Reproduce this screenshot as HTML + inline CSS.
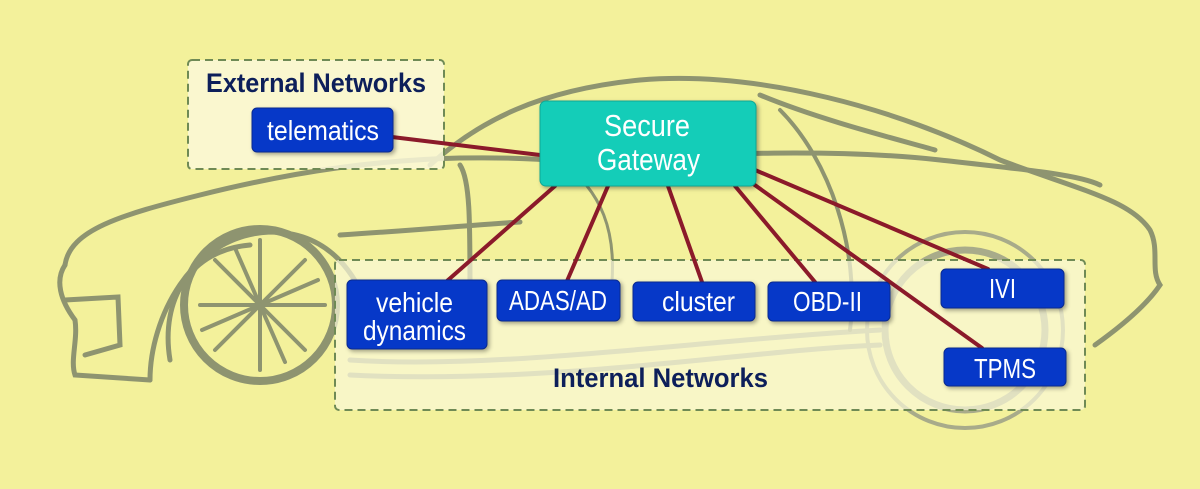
<!DOCTYPE html>
<html><head><meta charset="utf-8"><style>
html,body{margin:0;padding:0;background:#f3f19b;}
svg{display:block}
text{font-family:"Liberation Sans Narrow","Liberation Sans",sans-serif;}
</style></head><body>
<svg width="1200" height="489" viewBox="0 0 1200 489" xmlns="http://www.w3.org/2000/svg">
<rect width="1200" height="489" fill="#f3f19b"/>
<g fill="none" stroke="#8e9470" stroke-width="5" stroke-linecap="round">
 <path d="M65,265 C70,230 120,215 200,195 C300,170 380,160 460,158 C520,157 560,160 600,165"/>
 <path d="M430,165 C480,120 540,90 640,80 C760,70 900,110 1000,160 C1080,190 1130,200 1150,230 C1160,250 1150,270 1160,285 C1150,300 1130,320 1095,345"/>
 <path d="M600,165 C700,150 850,150 940,160 C1030,170 1080,175 1100,185"/>
 <path d="M760,95 C820,120 900,140 935,150"/>
 <path d="M65,265 C55,280 60,300 75,320 C78,340 70,360 75,375 L150,380"/>
 <path d="M65,300 L118,297 L120,345 L85,355"/>
 <path d="M150,380 C150,320 190,235 270,232 C340,232 360,290 370,310"/>
 <circle cx="260" cy="305" r="76" stroke-width="8"/>
 <path d="M170,360 C160,300 190,250 250,245"/>
 <path d="M340,235 C420,230 470,225 520,222"/>
 <path d="M460,165 C470,180 470,220 470,290"/>
 <path d="M560,160 C600,190 620,230 610,300" stroke-width="3"/>
 <path d="M350,360 C500,370 700,340 880,330" stroke="#a8ab8a"/>
 <path d="M350,375 C550,385 750,350 880,345" stroke="#a8ab8a"/>
 <circle cx="965" cy="330" r="80" stroke="#a8ab8a" stroke-width="7"/>
 <circle cx="965" cy="330" r="98" stroke="#a8ab8a" stroke-width="4"/>
 <path d="M780,110 C830,160 860,250 850,330" stroke-width="4"/>
</g>
<g stroke="#8e9470" stroke-width="4" stroke-linecap="round">
 <line x1="260" y1="305" x2="260" y2="240"/><line x1="260" y1="305" x2="260" y2="370"/>
 <line x1="260" y1="305" x2="200" y2="305"/><line x1="260" y1="305" x2="325" y2="305"/>
 <line x1="260" y1="305" x2="215" y2="260"/><line x1="260" y1="305" x2="305" y2="350"/>
 <line x1="260" y1="305" x2="305" y2="260"/><line x1="260" y1="305" x2="215" y2="350"/>
 <line x1="260" y1="305" x2="235" y2="248"/><line x1="260" y1="305" x2="285" y2="362"/>
 <line x1="260" y1="305" x2="318" y2="280"/><line x1="260" y1="305" x2="202" y2="330"/>
</g>
<rect x="188" y="60" width="256" height="109" rx="4" fill="#faf8d8" fill-opacity="0.85" stroke="#6f8a55" stroke-width="2" stroke-dasharray="8,5"/>
<rect x="335" y="260" width="750" height="150" rx="4" fill="#faf8d8" fill-opacity="0.7" stroke="#6f8a55" stroke-width="2" stroke-dasharray="8,5"/>
<text x="206" y="92" textLength="220" lengthAdjust="spacingAndGlyphs" font-size="27" font-weight="bold" fill="#0d1f5a">External Networks</text>
<text x="553" y="387" textLength="215" lengthAdjust="spacingAndGlyphs" font-size="27" font-weight="bold" fill="#0d1f5a">Internal Networks</text>
<g stroke="#8b1a2a" stroke-width="4" stroke-linecap="round">
 <line x1="392" y1="137" x2="540" y2="155"/>
 <line x1="555" y1="186" x2="447" y2="281"/>
 <line x1="608" y1="186" x2="567" y2="281"/>
 <line x1="668" y1="186" x2="702" y2="282"/>
 <line x1="735" y1="186" x2="815" y2="282"/>
 <line x1="752" y1="183" x2="982" y2="348"/>
 <line x1="755" y1="170" x2="988" y2="269"/>
</g>
<g fill="#0638c8" stroke="#0a2a90" stroke-width="1" style="filter:drop-shadow(2px 2px 2px rgba(0,0,0,0.35))">
 <rect x="252" y="108" width="141" height="44" rx="5"/>
 <rect x="347" y="280" width="140" height="69" rx="5"/>
 <rect x="497" y="280" width="123" height="41" rx="5"/>
 <rect x="633" y="282" width="122" height="39" rx="5"/>
 <rect x="768" y="282" width="122" height="39" rx="5"/>
 <rect x="941" y="269" width="123" height="39" rx="5"/>
 <rect x="944" y="348" width="122" height="38" rx="5"/>
 <rect x="540" y="101" width="216" height="85" rx="6" fill="#14cdb8" stroke="#0fa795"/>
</g>
<g fill="#fff" font-size="28" lengthAdjust="spacingAndGlyphs">
 <text x="267" y="140" textLength="112" lengthAdjust="spacingAndGlyphs">telematics</text>
 <text x="376" y="312" textLength="77" lengthAdjust="spacingAndGlyphs">vehicle</text>
 <text x="363" y="340" textLength="103" lengthAdjust="spacingAndGlyphs">dynamics</text>
 <text x="509" y="310" textLength="98" lengthAdjust="spacingAndGlyphs">ADAS/AD</text>
 <text x="662" y="311" textLength="73" lengthAdjust="spacingAndGlyphs">cluster</text>
 <text x="793" y="311" textLength="69" lengthAdjust="spacingAndGlyphs">OBD-II</text>
 <text x="989" y="298" textLength="27" lengthAdjust="spacingAndGlyphs">IVI</text>
 <text x="974" y="378" textLength="62" lengthAdjust="spacingAndGlyphs">TPMS</text>
 <text x="604" y="136" font-size="31" textLength="86" lengthAdjust="spacingAndGlyphs">Secure</text>
 <text x="597" y="170" font-size="31" textLength="103" lengthAdjust="spacingAndGlyphs">Gateway</text>
</g>
</svg>
</body></html>
